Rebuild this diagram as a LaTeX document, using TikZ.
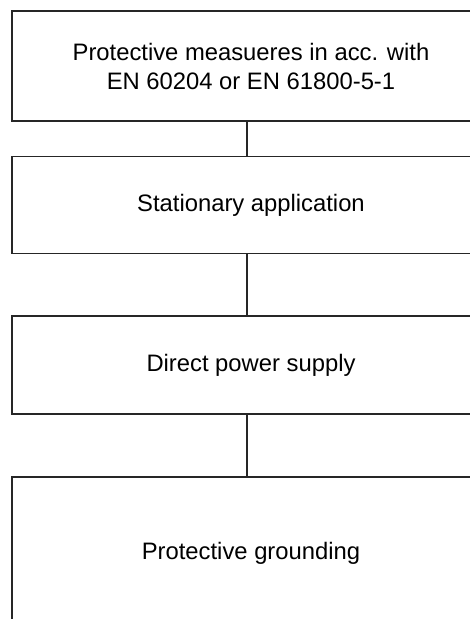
\documentclass[tikz,border=0pt]{standalone}
\usepackage{fontspec}
\setmainfont{Liberation Sans}
\begin{document}
\begin{tikzpicture}[x=1pt, y=-1pt,
  stepbox/.style={draw=black!85, line width=1.5pt, rectangle, minimum width=478pt, align=center,
    font=\fontsize{23.8}{29}\selectfont},
  link/.style={draw=black!85, line width=1.5pt}]
  \useasboundingbox (0,0) rectangle (470,619);
  \clip (0,0) rectangle (470,619);
  \node[stepbox, minimum height=110pt] (measures) at (251,66) {Protective measueres in acc. with\\EN 60204 or EN 61800-5-1};
  \node[stepbox, minimum height=97pt] (stationary) at (251,205) {Stationary application};
  \node[stepbox, minimum height=98pt] (supply) at (251,365) {Direct power supply};
  \node[stepbox, minimum height=152pt] (grounding) at (251,553) {Protective grounding};
  \draw[link] ([xshift=-4pt]measures.south) -- ([xshift=-4pt]stationary.north);
  \draw[link] ([xshift=-4pt]stationary.south) -- ([xshift=-4pt]supply.north);
  \draw[link] ([xshift=-4pt]supply.south) -- ([xshift=-4pt]grounding.north);
\end{tikzpicture}
\end{document}
